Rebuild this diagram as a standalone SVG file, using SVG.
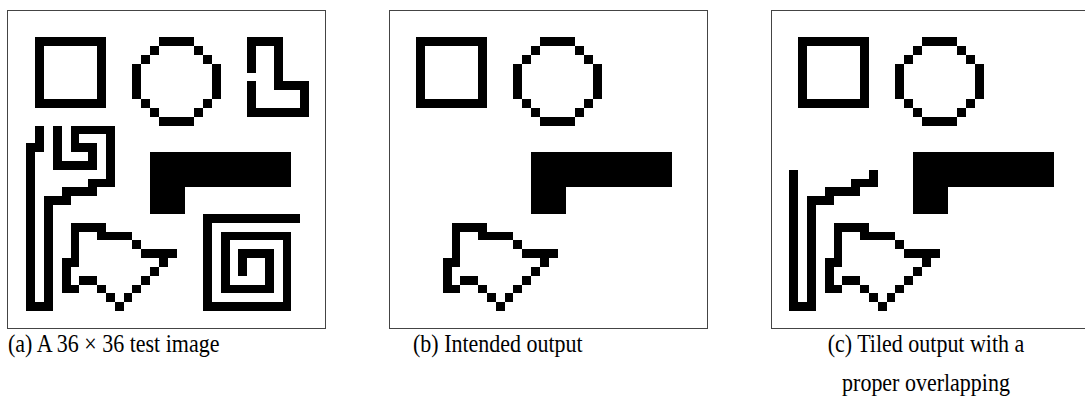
<svg xmlns="http://www.w3.org/2000/svg" xmlns:xlink="http://www.w3.org/1999/xlink" width="1085" height="410" viewBox="0 0 1085 410">
  <style>
    .frame { fill: #ffffff; stroke: #444444; stroke-width: 1; }
    .px { fill: #000000; shape-rendering: crispEdges; }
    .cap { font-family: "Liberation Serif", "Times New Roman", serif; font-size: 22px; fill: #000000; }
  </style>
  <defs>
    <g id="common" class="px">
      <!-- square -->
      <rect x="3" y="3" width="8" height="1"/><rect x="3" y="10" width="8" height="1"/>
      <rect x="3" y="4" width="1" height="6"/><rect x="10" y="4" width="1" height="6"/>
      <!-- circle -->
      <rect x="17" y="3" width="4" height="1"/><rect x="16" y="4" width="1" height="1"/><rect x="21" y="4" width="1" height="1"/>
      <rect x="15" y="5" width="1" height="1"/><rect x="22" y="5" width="1" height="1"/>
      <rect x="14" y="6" width="1" height="4"/><rect x="23" y="6" width="1" height="4"/>
      <rect x="15" y="10" width="1" height="1"/><rect x="22" y="10" width="1" height="1"/>
      <rect x="16" y="11" width="1" height="1"/><rect x="21" y="11" width="1" height="1"/>
      <rect x="17" y="12" width="4" height="1"/>
      <!-- filled L block -->
      <rect x="16" y="16" width="16" height="4"/><rect x="16" y="20" width="4" height="3"/>
      <!-- bell -->
      <rect x="7" y="24" width="4" height="1"/><rect x="7" y="24" width="1" height="5"/>
      <rect x="10" y="25" width="4" height="1"/><rect x="14" y="26" width="1" height="1"/>
      <rect x="15" y="27" width="4" height="1"/><rect x="17" y="28" width="1" height="1"/>
      <rect x="16" y="29" width="1" height="1"/><rect x="15" y="30" width="1" height="1"/>
      <rect x="14" y="31" width="1" height="1"/><rect x="13" y="32" width="1" height="1"/>
      <rect x="12" y="33" width="1" height="1"/><rect x="11" y="32" width="1" height="1"/>
      <rect x="10" y="31" width="1" height="1"/><rect x="8" y="30" width="2" height="1"/>
      <rect x="6" y="28" width="2" height="1"/><rect x="6" y="28" width="1" height="4"/>
      <rect x="6" y="31" width="2" height="1"/>
    </g>
    <g id="tail" class="px">
      <rect x="2" y="33" width="3" height="1"/><rect x="4" y="21" width="1" height="13"/>
      <rect x="4" y="21" width="3" height="1"/><rect x="6" y="20" width="4" height="1"/>
      <rect x="9" y="19" width="3" height="1"/>
    </g>
  </defs>

  <g id="panel-a">
    <rect class="frame" x="7.5" y="10.5" width="318" height="318"/>
    <g transform="translate(8.7 10.8) scale(8.8333)">
      <use xlink:href="#common"/>
      <use xlink:href="#tail"/>
      <g class="px">
        <!-- outlined L -->
        <rect x="27" y="3" width="4" height="1"/><rect x="27" y="3" width="1" height="4"/>
        <rect x="30" y="3" width="1" height="6"/><rect x="30" y="8" width="4" height="1"/>
        <rect x="33" y="8" width="1" height="4"/><rect x="27" y="8" width="1" height="4"/>
        <rect x="27" y="11" width="7" height="1"/>
        <!-- spiral -->
        <rect x="22" y="23" width="11" height="1"/><rect x="22" y="23" width="1" height="11"/>
        <rect x="22" y="33" width="10" height="1"/><rect x="31" y="25" width="1" height="9"/>
        <rect x="24" y="25" width="8" height="1"/><rect x="24" y="25" width="1" height="7"/>
        <rect x="24" y="31" width="6" height="1"/><rect x="29" y="27" width="1" height="5"/>
        <rect x="26" y="27" width="4" height="1"/><rect x="26" y="27" width="1" height="3"/>
        <!-- left maze -->
        <rect x="3" y="13" width="1" height="3"/><rect x="2" y="15" width="2" height="1"/>
        <rect x="2" y="15" width="1" height="19"/>
        <rect x="11" y="13" width="1" height="7"/><rect x="7" y="13" width="5" height="1"/>
        <rect x="7" y="13" width="1" height="3"/><rect x="7" y="15" width="3" height="1"/>
        <rect x="9" y="15" width="1" height="3"/><rect x="5" y="17" width="5" height="1"/>
        <rect x="5" y="13" width="1" height="5"/>
      </g>
    </g>
  </g>

  <g id="panel-b">
    <rect class="frame" x="389.5" y="10.5" width="318" height="318"/>
    <g transform="translate(389.8 10.8) scale(8.8333)">
      <use xlink:href="#common"/>
    </g>
  </g>

  <g id="panel-c">
    <rect class="frame" x="771.5" y="10.5" width="318" height="318"/>
    <g transform="translate(771.8 10.8) scale(8.8333)">
      <use xlink:href="#common"/>
      <use xlink:href="#tail"/>
      <g class="px">
        <rect x="2" y="18" width="1" height="16"/><rect x="11" y="18" width="1" height="2"/>
      </g>
    </g>
  </g>

  <g id="captions">
    <text class="cap" transform="translate(8 352) scale(1 1.15)">(a) A 36 × 36 test image</text>
    <text class="cap" transform="translate(413 352) scale(1 1.15)">(b) Intended output</text>
    <text class="cap" text-anchor="middle" transform="translate(926 352) scale(1 1.15)">(c) Tiled output with a</text>
    <text class="cap" text-anchor="middle" transform="translate(926 391) scale(1 1.15)">proper overlapping</text>
  </g>
</svg>
